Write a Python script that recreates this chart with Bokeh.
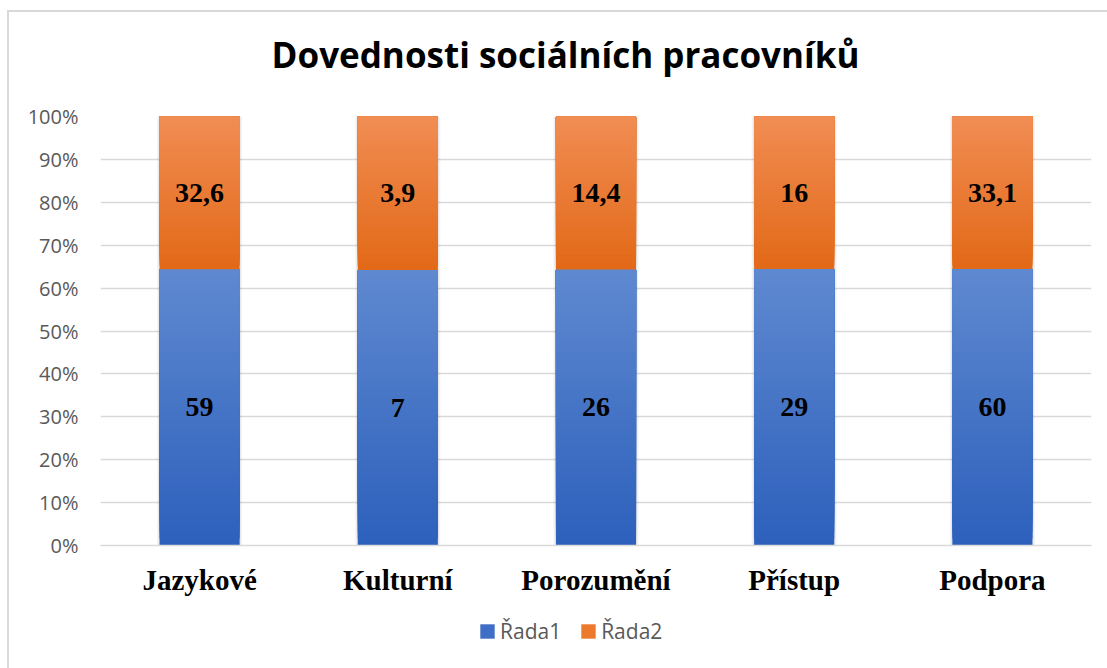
import numpy as np
from bokeh.plotting import figure
from bokeh.layouts import column
from bokeh.models import (ColumnDataSource, FixedTicker, NumeralTickFormatter,
                          Legend, LegendItem, Range1d, FactorRange)
from bokeh.core.properties import value
from bokeh.embed import file_html
from bokeh.resources import INLINE

title_text = "Dovednosti sociálních pracovníků"
categories = ["Jazykové", "Kulturní", "Porozumění", "Přístup", "Podpora"]
rada1 = [59, 7, 26, 29, 60]
rada2 = [32.6, 3.9, 14.4, 16, 33.1]
series_names = ["Řada1", "Řada2"]
y_ticks = [0, 0.1, 0.2, 0.3, 0.4, 0.5, 0.6, 0.7, 0.8, 0.9, 1.0]

blue_top, blue_bot = (0x5F, 0x88, 0xD0), (0x2D, 0x61, 0xBC)
orange_top, orange_bot = (0xF1, 0x8D, 0x54), (0xE2, 0x69, 0x17)

def fmt(v):
    s = ("%g" % v)
    return s.replace(".", ",")

def lerp(c1, c2, t):
    return "#%02x%02x%02x" % tuple(int(round(a + (b - a) * t)) for a, b in zip(c1, c2))

r1 = np.array(rada1, dtype=float)
r2 = np.array(rada2, dtype=float)
tot = r1 + r2
f1 = r1 / tot

N = 40
bx, bb, bt, bc = [], [], [], []
for i, c in enumerate(categories):
    for (lo, hi, ctop, cbot) in [(0.0, f1[i], blue_top, blue_bot),
                                 (f1[i], 1.0, orange_top, orange_bot)]:
        for k in range(N):
            b0 = lo + (hi - lo) * k / N
            t = 1 - (k + 0.5) / N
            bx.append(c); bb.append(b0); bt.append(hi)
            bc.append(lerp(ctop, cbot, t))
bands = ColumnDataSource(dict(x=bx, bottom=bb, top=bt, color=bc))

# title strip
tf = figure(x_range=Range1d(0, 1), y_range=Range1d(0, 1), width=1098, height=90,
            output_backend="svg", toolbar_location=None, min_border=0)
tf.axis.visible = False
tf.grid.visible = False
tf.outline_line_color = None
tf.border_fill_color = "white"
tf.text(x=[0.4692], y=[0.528], text=[title_text], text_align="center",
        text_baseline="alphabetic", text_font=value("Open Sans"),
        text_font_style="bold", text_font_size="35px", text_color="#000000")

p = figure(x_range=FactorRange(*categories, range_padding=0), y_range=Range1d(0, 1),
           width=1098, height=498, output_backend="svg", toolbar_location=None,
           min_border_left=91, min_border_right=16, min_border_top=14, min_border_bottom=55)
p.outline_line_color = None
p.background_fill_color = "white"
p.border_fill_color = "white"

# shadow
src_bar = ColumnDataSource(dict(x=categories, top=[1.0] * len(categories)))
p.vbar(x="x", top="top", bottom=-0.005, width=0.43, source=src_bar,
       fill_color="#000000", fill_alpha=0.04, line_color=None)
p.vbar(x="x", top="top", bottom=-0.0025, width=0.417, source=src_bar,
       fill_color="#000000", fill_alpha=0.06, line_color=None)

p.vbar(x="x", bottom="bottom", top="top", width=0.404, source=bands,
       fill_color="color", line_color=None)

# data labels
lx = categories + categories
ly = list(f1 / 2) + list((f1 + 1) / 2)
lt = [fmt(v) for v in rada1] + [fmt(v) for v in rada2]
p.text(x=lx, y=ly, text=lt, text_align="center", text_baseline="middle",
       text_font=value("Liberation Serif"), text_font_style="bold",
       text_font_size="28px", text_color="#000000")

p.yaxis.ticker = FixedTicker(ticks=y_ticks)
p.yaxis.formatter = NumeralTickFormatter(format="0%")
p.yaxis.axis_line_color = None
p.yaxis.major_tick_line_color = None
p.yaxis.minor_tick_line_color = None
p.yaxis.major_label_text_font = "Open Sans"
p.yaxis.major_label_text_font_size = "20px"
p.yaxis.major_label_text_color = "#595959"
p.yaxis.major_label_standoff = 16

p.xaxis.axis_line_color = "#d9d9d9"
p.xaxis.axis_line_width = 1.5
p.xaxis.major_tick_line_color = None
p.xaxis.minor_tick_line_color = None
p.xaxis.major_label_text_font = "Liberation Serif"
p.xaxis.major_label_text_font_style = "bold"
p.xaxis.major_label_text_font_size = "29px"
p.xaxis.major_label_text_color = "#000000"
p.xaxis.major_label_standoff = 12

p.xgrid.grid_line_color = None
p.ygrid.grid_line_color = "#d9d9d9"
p.ygrid.grid_line_width = 1.5

# legend strip
q = figure(x_range=Range1d(0, 1), y_range=Range1d(0, 1), width=1098, height=68,
           output_backend="svg", toolbar_location=None, min_border=0)
q.axis.visible = False
q.grid.visible = False
q.outline_line_color = None
q.border_fill_color = "white"
rl1 = q.vbar(x=[0.5], top=[0], bottom=[0], width=0.01, fill_color="#3f6ec6", line_color=None)
rl2 = q.vbar(x=[0.5], top=[0], bottom=[0], width=0.01, fill_color="#ed7a2c", line_color=None)
legend = Legend(items=[LegendItem(label=series_names[0], renderers=[rl1]),
                       LegendItem(label=series_names[1], renderers=[rl2])],
                orientation="horizontal", location=(378, 23),
                label_text_font="Open Sans", label_text_font_size="21px",
                label_text_color="#595959", glyph_width=18, glyph_height=18,
                spacing=18, label_standoff=4, border_line_color=None,
                background_fill_alpha=0, margin=0, padding=0)
q.add_layout(legend, "center")

layout = column(tf, p, q, spacing=0,
                styles={"margin-left": "7px", "margin-top": "10px",
                        "border-left": "2px solid #d9d9d9",
                        "border-top": "2px solid #d9d9d9"})

open("out.html", "w").write(file_html(layout, INLINE))
